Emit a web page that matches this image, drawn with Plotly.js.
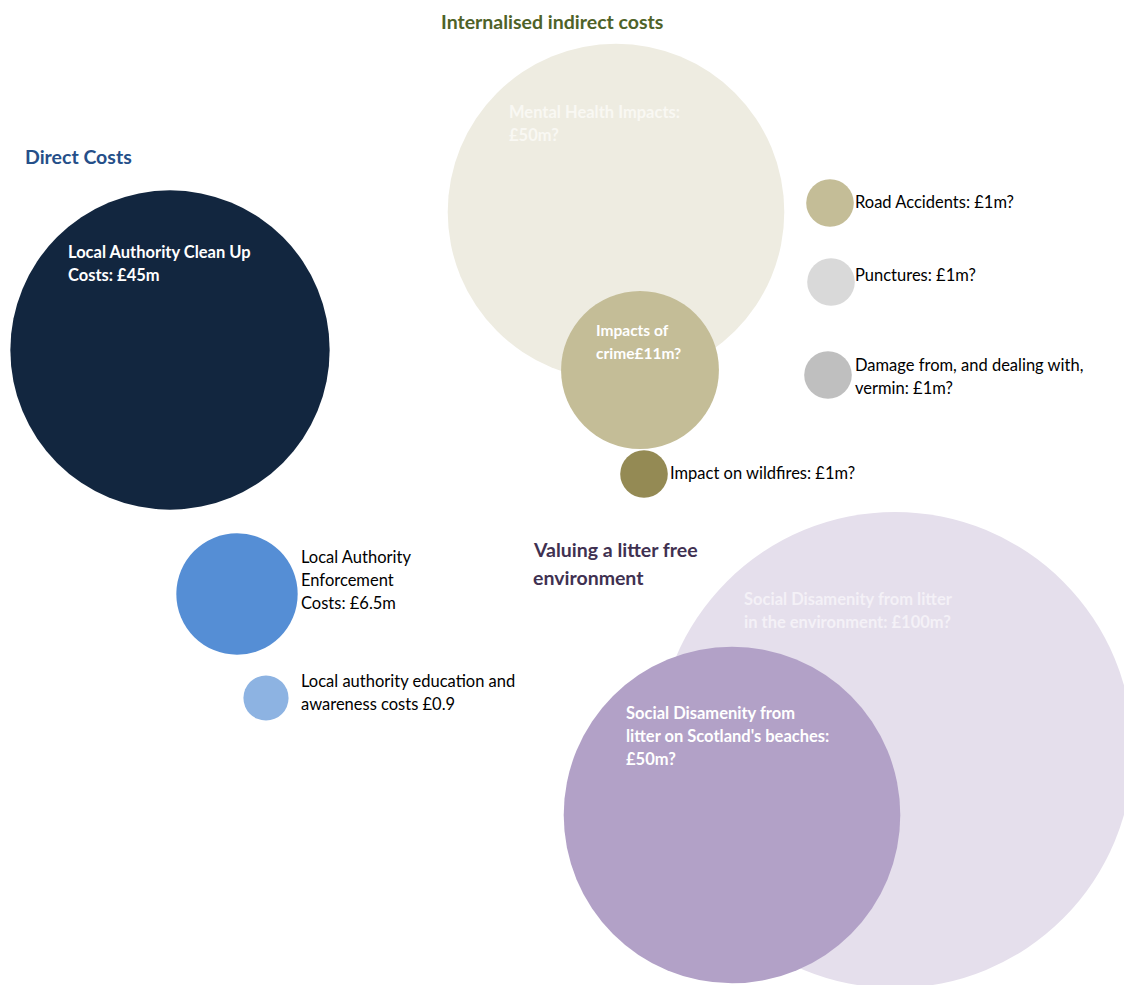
<!DOCTYPE html>
<html>
<head>
<meta charset="utf-8">
<script src="https://cdn.plot.ly/plotly-3.0.1.min.js"></script>
<style>html,body{margin:0;padding:0;background:#fff;}#chart{width:1124px;height:985px;}</style>
</head>
<body>
<div id="chart"></div>
<script>
// ---- Data ----
const categories = [
  "Local Authority Clean Up Costs",
  "Local Authority Enforcement Costs",
  "Local authority education and awareness costs",
  "Mental Health Impacts",
  "Impacts of crime",
  "Impact on wildfires",
  "Road Accidents",
  "Punctures",
  "Damage from, and dealing with, vermin",
  "Social Disamenity from litter in the environment",
  "Social Disamenity from litter on Scotland's beaches"
];
const groups = ["direct","direct","direct","indirect","indirect","indirect","indirect","indirect","indirect","litterfree","litterfree"];
const costValues = [45, 6.5, 0.9, 50, 11, 1, 1, 1, 1, 100, 50];   // £m
const bubbleX = [170, 237, 266, 616, 640, 644, 830, 831, 828, 895, 732];
const bubbleY = [350, 594, 698, 212, 370, 474, 203, 282, 375, 750, 815];
const labels = [
  "Local Authority Clean Up<br>Costs: £45m",
  "Local Authority<br>Enforcement<br>Costs: £6.5m",
  "Local authority education and<br>awareness costs £0.9",
  "Mental Health Impacts:<br>£50m?",
  "Impacts of<br>crime£11m?",
  "Impact on wildfires: £1m?",
  "Road Accidents: £1m?",
  "Punctures: £1m?",
  "Damage from, and dealing with,<br>vermin: £1m?",
  "Social Disamenity from litter<br>in the environment: £100m?",
  "Social Disamenity from<br>litter on Scotland's beaches:<br>£50m?"
];
const groupTitles = ["Direct Costs", "Internalised indirect costs", "Valuing a litter free<br>environment"];

// ---- Styling / layout (not data) ----
const bubbleColors = ["#12263F","#558ED5","#8DB3E2","#EEECE1","#C4BD97","#948A54","#C4BD97","#D9D9D9","#BFBFBF","#E5DFEC","#B2A1C7"];
// label placement: [x, y of first line, font size, bold, colour]
const labelPlace = [
  [66, 252, 16.5, true, "#FFFFFF"],
  [299, 557, 16.5, false, "#000000"],
  [299, 681, 16.5, false, "#000000"],
  [507, 112, 16.5, true, "#F9F8F3"],
  [594, 330, 15.5, true, "#FFFFFF"],
  [668, 473, 16.5, false, "#000000"],
  [853, 202, 16.5, false, "#000000"],
  [853, 275, 16.5, false, "#000000"],
  [853, 365, 16.5, false, "#000000"],
  [742, 599, 16.5, true, "#F4F1F7"],
  [624, 713, 16.5, true, "#FFFFFF"]
];
const titlePlace = [
  [23, 156, "#254F89"],
  [439, 21, "#4F6228"],
  [531, 549, "#3F3151"]
];
const lineGap = 23;
const FONT = "Lato, 'Open Sans', sans-serif";

const trace = {
  type: "scatter",
  mode: "markers",
  x: bubbleX,
  y: bubbleY,
  text: categories,
  marker: {
    size: costValues,
    sizemode: "area",
    sizeref: 2 / (47.6 * 47.6),
    color: bubbleColors,
    opacity: 1,
    line: {width: 0}
  },
  hoverinfo: "none",
  cliponaxis: true
};

const annotations = [];
labels.forEach((lab, i) => {
  const p = labelPlace[i];
  lab.split("<br>").forEach((ln, j) => {
    annotations.push({
      x: p[0], y: p[1], xref: "x", yref: "y",
      xanchor: "left", yanchor: "middle",
      yshift: -j * lineGap,
      text: p[3] ? "<b>" + ln + "</b>" : ln,
      showarrow: false,
      font: {family: FONT, size: p[2], color: p[4]}
    });
  });
});
groupTitles.forEach((t, i) => {
  const p = titlePlace[i];
  t.split("<br>").forEach((ln, j) => {
    annotations.push({
      x: p[0], y: p[1], xref: "x", yref: "y",
      xanchor: "left", yanchor: "middle",
      yshift: -j * 28,
      text: "<b>" + ln + "</b>",
      showarrow: false,
      font: {family: FONT, size: 19.5, color: p[2]}
    });
  });
});

const layout = {
  width: 1124, height: 985,
  margin: {l: 0, r: 0, t: 0, b: 0, pad: 0},
  paper_bgcolor: "#FFFFFF",
  plot_bgcolor: "#FFFFFF",
  showlegend: false,
  xaxis: {range: [0, 1124], visible: false, fixedrange: true},
  yaxis: {range: [985, 0], visible: false, fixedrange: true},
  annotations: annotations,
  font: {family: FONT}
};

Plotly.newPlot("chart", [trace], layout, {displayModeBar: false, staticPlot: true});
</script>
</body>
</html>
